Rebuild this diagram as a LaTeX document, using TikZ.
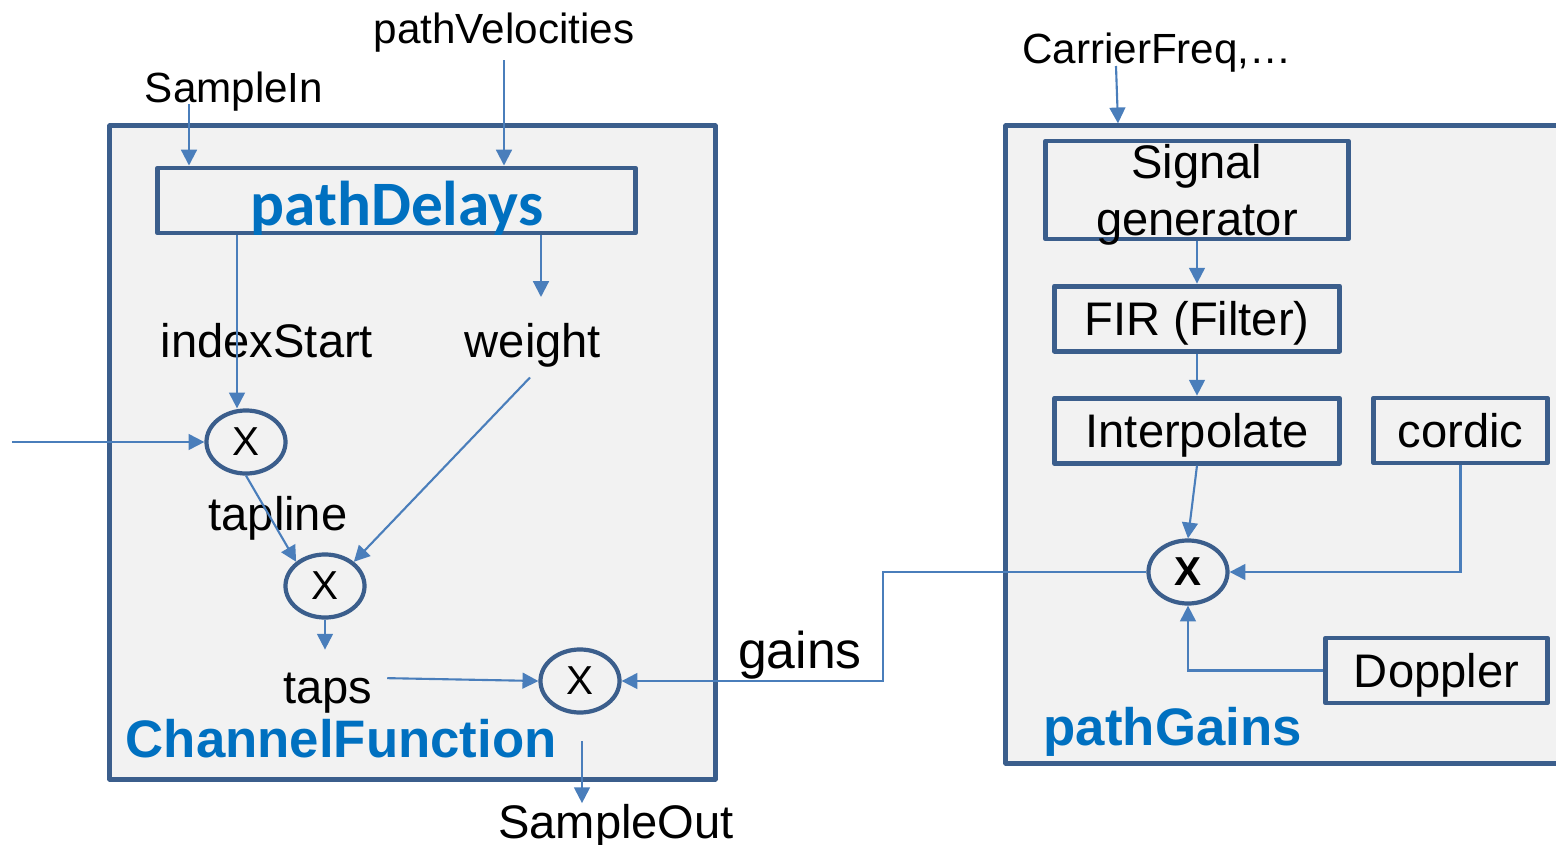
\documentclass[tikz,border=0pt]{standalone}
\usepackage{fontspec}
\setmainfont{Liberation Sans}
\newfontfamily\calibri{Carlito}
\usetikzlibrary{positioning,shapes.geometric,arrows.meta}

\definecolor{frameblue}{RGB}{59,94,140}
\definecolor{wireblue}{RGB}{74,126,187}
\definecolor{headblue}{RGB}{0,112,192}
\definecolor{panelgray}{RGB}{242,242,242}

\begin{document}
\begin{tikzpicture}[x=0.01cm, y=-0.01cm, node distance=1.2cm]
    \tikzstyle{panel} = [rectangle, draw=frameblue, fill=panelgray, line width=1.4pt, line join=round, inner sep=0pt]
    \tikzstyle{block} = [rectangle, draw=frameblue, line width=1.4pt, line join=round, inner sep=0pt, align=center, font=\fontsize{13.4}{16.2}\selectfont]
    \tikzstyle{cell} = [block, text height=0.34cm, text depth=0pt, minimum height=0.65cm]
    \tikzstyle{mult} = [ellipse, draw=frameblue, line width=1.2pt, inner sep=0pt, minimum width=0.79cm, minimum height=0.63cm, font=\fontsize{11.5}{13}\selectfont]
    \tikzstyle{lbl} = [inner sep=0pt, anchor=base, font=\fontsize{13.4}{16}\selectfont]
    \tikzstyle{inlbl} = [inner sep=0pt, anchor=base, font=\fontsize{12}{14}\selectfont]
    \tikzstyle{head} = [inner sep=0pt, anchor=base west, text=headblue, font=\fontsize{15}{18}\selectfont\bfseries]
    \tikzstyle{arrow} = [wireblue, line width=0.6pt, -{Triangle[width=4.5pt,length=4.5pt]}]

    \useasboundingbox (0,0) rectangle (1556,845);

    % Panels
    \node [panel, minimum width=6.05cm, minimum height=6.53cm] (chan) at (412.5,452.5) {};
    \node [panel, minimum width=6.14cm, minimum height=6.37cm] (gainpanel) at (1313,444.5) {};

    % Inputs
    \node [inlbl] (samplein) at (234,102) {SampleIn};
    \node [inlbl] (pathvel) at (504,43) {pathVelocities};
    \node [inlbl] (carrier) at (1157,63) {CarrierFreq,…};

    % ChannelFunction
    \node [block, minimum width=4.77cm, minimum height=0.65cm] (delays) at (396.5,200.5) {};
    \node [inner sep=0pt, anchor=base, text=headblue, font=\fontsize{18}{20}\calibri\bfseries] (delaystext) at (397,225) {pathDelays};
    \node [lbl] (idxstart) at (267,357) {indexStart};
    \node [lbl] (weight) at (533,357) {weight};
    \node [mult] (m1) at (246,442) {X};
    \node [lbl] (tapline) at (278,530) {tapline};
    \node [mult] (m2) at (325,586) {X};
    \node [lbl] (taps) at (328,703) {taps};
    \node [mult] (m3) at (580,681) {X};
    \node [head] (chantitle) at (125,757) {ChannelFunction};
    \node [lbl] (sampleout) at (616,838) {SampleOut};
    \node [lbl, font=\fontsize{14.7}{17}\selectfont] (gains) at (800,668) {gains};

    % pathGains
    \node [block, text depth=0pt, minimum width=3.02cm, minimum height=0.98cm] (siggen) at (1197,190) {Signal\\generator};
    \node [cell, minimum width=2.85cm, below of=siggen, node distance=1.285cm] (fir) {FIR (Filter)};
    \node [cell, minimum width=2.85cm, below of=fir, node distance=1.12cm] (interp) {Interpolate};
    \node [cell, minimum width=1.73cm] (cordic) at (1460.5,430.5) {cordic};
    \node [mult, font=\fontsize{11.5}{13}\selectfont\bfseries] (gx) at (1188,572) {X};
    \node [cell, minimum width=2.21cm] (doppler) at (1436.5,670.5) {Doppler};
    \node [head] (gaintitle) at (1043,745) {pathGains};

    % Connectors
    \coordinate (sinfoot) at (189,104);
    \draw [arrow] (sinfoot) -- (sinfoot |- delays.north);
    \draw [arrow] ([yshift=-0.08cm]pathvel.south) -- (pathvel.south |- delays.north);
    \coordinate (cffoot) at (1116,66);
    \draw [arrow] (cffoot) -- (1118,0 |- gainpanel.north);

    \coordinate (m1top) at (237,0);
    \draw [arrow] (m1top |- delays.south) -- (m1top |- m1.north);
    \coordinate (wtip) at (541,297);
    \draw [arrow] (wtip |- delays.south) -- (wtip);
    \draw [arrow] ([shift={(-0.03cm,-0.1cm)}]weight.south) -- (m2.40);
    \coordinate (feedin) at (12,442);
    \draw [arrow] (feedin) -- (m1.west);
    \draw [arrow] (m1.south) -- (m2.140);
    \draw [arrow] (m2.south) -- ++(0,30);
    \draw [arrow] ([shift={(0.14cm,0.145cm)}]taps.east) -- (m3.west);
    \coordinate (outtop) at (582,741);
    \draw [arrow] (outtop) -- (outtop |- sampleout.north);
    \draw [arrow] (gx.west) -- ++(-263,0) |- (m3.east);

    \draw [arrow] (siggen.south) -- (fir.north);
    \draw [arrow] (fir.south) -- (interp.north);
    \draw [arrow] (interp.south) -- (gx.north);
    \draw [arrow] (cordic.south) |- (gx.east);
    \draw [arrow] (doppler.west) -| (gx.south);
\end{tikzpicture}
\end{document}
